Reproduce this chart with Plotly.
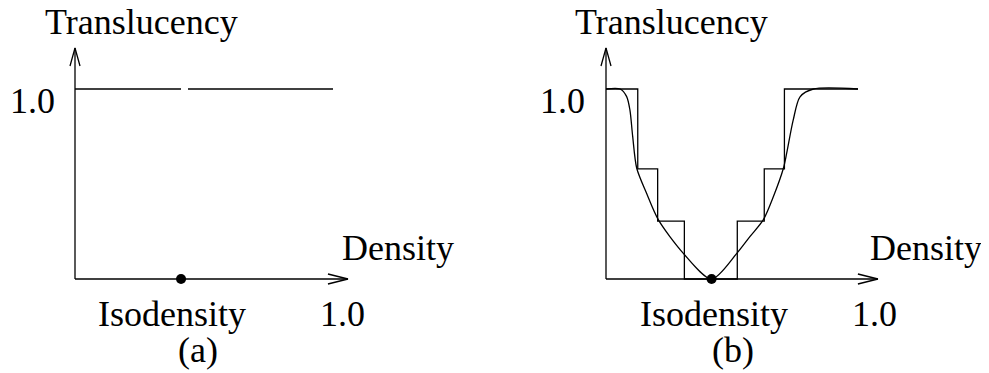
import plotly.graph_objects as go

# ---------------- data ----------------
# Panel (a): constant translucency with a break at the isodensity value
iso_a = 0.411
flat_a_x1 = [0.0, 0.411]
flat_a_x2 = [0.438, 1.0]
flat_a_y = [1.0, 1.0]

# Panel (b): step (quantised) transfer function
step_x = [0.0, 0.126, 0.205, 0.311, 0.521, 0.628, 0.708, 1.0]
step_y = [1.0, 0.58, 0.305, 0.0, 0.305, 0.58, 1.0, 1.0]

# Panel (b): smooth transfer function
curve_x = [0.0, 0.056, 0.082, 0.095, 0.106, 0.122, 0.161, 0.208, 0.307, 0.419,
           0.519, 0.571, 0.624, 0.664, 0.704, 0.717, 0.743, 0.770, 0.823, 1.0]
curve_y = [1.0, 1.0, 0.96, 0.889, 0.749, 0.583, 0.451, 0.311, 0.135, 0.0,
           0.135, 0.223, 0.311, 0.433, 0.583, 0.662, 0.837, 0.959, 1.0, 1.0]
iso_b = 0.419

# axis extents (data units)
y_axis_top = 1.216
x_axis_end_a = 1.058
x_axis_end_b = 1.079

# ---------------- figure ----------------
PAGE_OFF = 8  # default body margin of the html page
W, H = 989 - PAGE_OFF, 373 - PAGE_OFF
FONT = "Liberation Serif, Times New Roman, serif"
LW = 1.3
BLACK = "black"

fig = go.Figure()

def add_axes(xref, yref, x_end, sx, sy):
    fig.add_trace(go.Scatter(x=[0, 0, None, 0, x_end], y=[y_axis_top, 0, None, 0, 0],
                             mode="lines", line=dict(color=BLACK, width=LW),
                             xaxis=xref, yaxis=yref, hoverinfo="skip"))
    ax_w, ax_l = 5 / sx, 18 / sy
    bx_w, bx_l = 5 / sy, 20 / sx
    fig.add_trace(go.Scatter(
        x=[-ax_w, 0, ax_w, None, x_end - bx_l, x_end, x_end - bx_l],
        y=[y_axis_top - ax_l, y_axis_top, y_axis_top - ax_l, None, bx_w, 0, -bx_w],
        mode="lines", line=dict(color=BLACK, width=LW),
        xaxis=xref, yaxis=yref, hoverinfo="skip"))

SX_A, SX_B, SY = 258.0, 252.0, 190.0
OX_A, OX_B, OY = 75.0, 606.0, 279.0   # page-pixel origins of the two panels

# Panel (a)
add_axes("x", "y", x_axis_end_a, SX_A, SY)
fig.add_trace(go.Scatter(x=flat_a_x1, y=flat_a_y, mode="lines",
                         line=dict(color=BLACK, width=LW), xaxis="x", yaxis="y"))
fig.add_trace(go.Scatter(x=flat_a_x2, y=flat_a_y, mode="lines",
                         line=dict(color=BLACK, width=LW), xaxis="x", yaxis="y"))
fig.add_trace(go.Scatter(x=[iso_a], y=[0], mode="markers",
                         marker=dict(color=BLACK, size=10), xaxis="x", yaxis="y"))

# Panel (b)
add_axes("x2", "y2", x_axis_end_b, SX_B, SY)
fig.add_trace(go.Scatter(x=step_x, y=step_y, mode="lines",
                         line=dict(color=BLACK, width=LW, shape="hv"),
                         xaxis="x2", yaxis="y2"))
fig.add_trace(go.Scatter(x=curve_x, y=curve_y, mode="lines",
                         line=dict(color=BLACK, width=LW, shape="spline", smoothing=0.8),
                         xaxis="x2", yaxis="y2"))
fig.add_trace(go.Scatter(x=[iso_b], y=[0], mode="markers",
                         marker=dict(color=BLACK, size=10), xaxis="x2", yaxis="y2"))

# ---------------- labels ----------------
def label(text, x, y, xref, yref):
    fig.add_annotation(text=text, x=x, y=y, xref=xref, yref=yref, showarrow=False,
                       xanchor="center", yanchor="middle",
                       font=dict(family=FONT, size=36, color=BLACK))

for xr, yr, pos in [
    ("x", "y", dict(tr=0.256, one_y=-0.165, dens=1.25, iso=0.375, one_x=1.037, cap=0.475, cap_t="(a)")),
    ("x2", "y2", dict(tr=0.261, one_y=-0.173, dens=1.270, iso=0.429, one_x=1.067, cap=0.504, cap_t="(b)")),
]:
    label("Translucency", pos["tr"], 1.353, xr, yr)
    label("1.0", pos["one_y"], 0.937, xr, yr)
    label("Density", pos["dens"], 0.163, xr, yr)
    label("Isodensity", pos["iso"], -0.184, xr, yr)
    label("1.0", pos["one_x"], -0.184, xr, yr)
    label(pos["cap_t"], pos["cap"], -0.374, xr, yr)

# figure pixel fx corresponds to page pixel fx + PAGE_OFF
mid_page = PAGE_OFF + W / 2
y_range = [(OY - (PAGE_OFF + H)) / SY, (OY - PAGE_OFF) / SY]
hidden = dict(visible=False, showgrid=False, zeroline=False, fixedrange=True)
fig.update_layout(
    width=W, height=H, showlegend=False,
    margin=dict(l=0, r=0, t=0, b=0),
    paper_bgcolor="white", plot_bgcolor="white",
    xaxis=dict(domain=[0, 0.5], range=[(PAGE_OFF - OX_A) / SX_A, (mid_page - OX_A) / SX_A], **hidden),
    yaxis=dict(domain=[0, 1], range=y_range, anchor="x", **hidden),
    xaxis2=dict(domain=[0.5, 1], range=[(mid_page - OX_B) / SX_B, (PAGE_OFF + W - OX_B) / SX_B],
                anchor="y2", **hidden),
    yaxis2=dict(domain=[0, 1], range=y_range, anchor="x2", **hidden),
)

fig.write_html("out.html")
